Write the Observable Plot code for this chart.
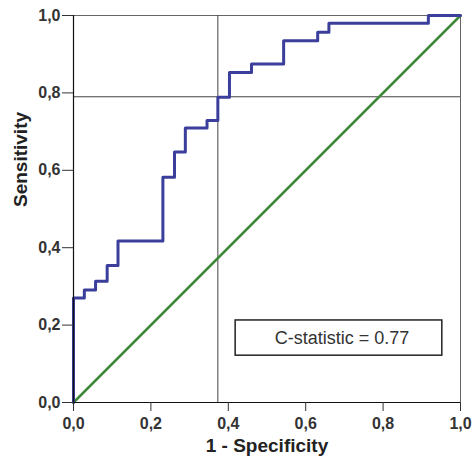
<!DOCTYPE html>
<html>
<head>
<meta charset="utf-8">
<script src="https://cdn.jsdelivr.net/npm/d3@7"></script>
<script src="https://cdn.jsdelivr.net/npm/@observablehq/plot@0.6"></script>
<style>
  html, body { margin: 0; padding: 0; background: #fff; }
</style>
</head>
<body>
<div id="chart"></div>
<script>
// ROC curve values (1 - specificity, sensitivity)
const fpr = [0, 0, 0.028, 0.057, 0.087, 0.115, 0.231, 0.261, 0.289, 0.345, 0.373, 0.403, 0.460, 0.543, 0.631, 0.660, 0.917, 1.0];
const tpr = [0, 0.27, 0.291, 0.313, 0.354, 0.417, 0.582, 0.647, 0.709, 0.729, 0.789, 0.853, 0.875, 0.935, 0.957, 0.980, 1.0, 1.0];
// reference diagonal
const diagX = [0, 1];
const diagY = [0, 1];
// cut-off reference lines
const cutX = [0.373];
const cutY = [0.79];
// ticks
const ticks = [0, 0.2, 0.4, 0.6, 0.8, 1.0];
const xTitle = "1 - Specificity";
const yTitle = "Sensitivity";
const annotation = "C-statistic = 0.77";
const boxX = [0.419, 0.953];
const boxY = [0.121, 0.212];

const roc = fpr.map((x, i) => ({x, y: tpr[i]}));
const diag = diagX.map((x, i) => ({x, y: diagY[i]}));
const fmt = d => d.toFixed(1).replace(".", ",");
const font = "'Liberation Sans', Arial, Helvetica, sans-serif";

const chart = Plot.plot({
  width: 472,
  height: 462,
  marginLeft: 73,
  marginRight: 12,
  marginTop: 15,
  marginBottom: 60,
  style: {fontFamily: font, background: "#fff"},
  x: {domain: [0, 1]},
  y: {domain: [0, 1]},
  marks: [
    Plot.frame({stroke: "#666", strokeWidth: 1}),
    Plot.ruleX(cutX, {stroke: "#444", strokeWidth: 1}),
    Plot.ruleY(cutY, {stroke: "#444", strokeWidth: 1}),
    Plot.line(diag, {x: "x", y: "y", stroke: "#3f8a3a", strokeWidth: 2.5}),
    Plot.line(roc, {x: "x", y: "y", curve: "step-after", stroke: "#3b3f9b", strokeWidth: 3}),
    Plot.ruleX([0], {stroke: "#111", strokeWidth: 1.2}),
    Plot.ruleY([0], {stroke: "#111", strokeWidth: 1.2}),
    Plot.axisX({ticks, tickFormat: fmt, tickSize: 9, tickPadding: 6, fontSize: 16, fontWeight: "bold", color: "#333", label: null}),
    Plot.axisY({ticks, tickFormat: fmt, tickSize: 11, tickPadding: 2, fontSize: 16, fontWeight: "bold", color: "#333", label: null}),
    Plot.rect([{x1: boxX[0], x2: boxX[1], y1: boxY[0], y2: boxY[1]}], {x1: "x1", x2: "x2", y1: "y1", y2: "y2", fill: "#fff", stroke: "#222", strokeWidth: 1.5}),
    Plot.text([annotation], {x: (boxX[0] + boxX[1]) / 2 + 0.008, y: (boxY[0] + boxY[1]) / 2, text: d => d, fontSize: 18, fill: "#333"}),
    Plot.text([xTitle], {frameAnchor: "bottom", dy: 49, text: d => d, fontSize: 19, fontWeight: "bold", fill: "#222"}),
    Plot.text([yTitle], {frameAnchor: "left", dx: -53, dy: -2, rotate: -90, text: d => d, fontSize: 19, fontWeight: "bold", fill: "#222"})
  ]
});
document.getElementById("chart").appendChild(chart);
</script>
</body>
</html>
